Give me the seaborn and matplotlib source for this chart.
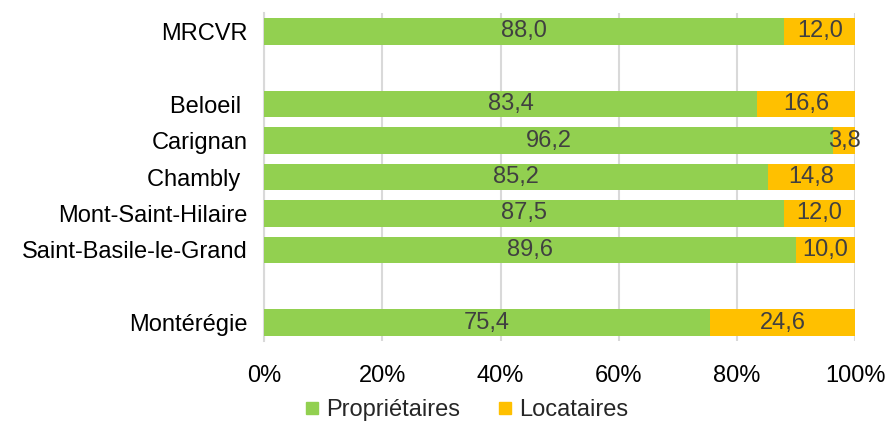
import pandas as pd
import matplotlib.pyplot as plt
from matplotlib.lines import Line2D
import seaborn as sns

# Data (percent of households)
zones = ["MRCVR", "Beloeil ", "Carignan", "Chambly ", "Mont-Saint-Hilaire",
         "Saint-Basile-le-Grand", "Montérégie"]
proprietaires = [88.0, 83.4, 96.2, 85.2, 87.5, 89.6, 75.4]
locataires = [12.0, 16.6, 3.8, 14.8, 12.0, 10.0, 24.6]

# Row order with blank separator rows
order = ["MRCVR", "", "Beloeil ", "Carignan", "Chambly ", "Mont-Saint-Hilaire",
         "Saint-Basile-le-Grand", " ", "Montérégie"]

green = "#92D050"
orange = "#FFC000"
grid_col = "#D9D9D9"
text_col = "#404040"

df = pd.DataFrame({"zone": zones, "prop": proprietaires, "loc": locataires})
df["total"] = df["prop"] + df["loc"]
df["prop_share"] = df["prop"] / df["total"] * 100
df["full"] = 100.0

sns.set_style("white")
plt.rcParams["font.family"] = ["Liberation Sans", "DejaVu Sans"]

fig = plt.figure(figsize=(8.89, 4.22), dpi=100)
ax = fig.add_axes([0.297, 0.192, 0.665, 0.777])

sns.barplot(data=df, x="full", y="zone", order=order, color=orange,
            width=0.73, saturation=1, orient="h", ax=ax, zorder=2, linewidth=0)
sns.barplot(data=df, x="prop_share", y="zone", order=order, color=green,
            width=0.73, saturation=1, orient="h", ax=ax, zorder=3, linewidth=0)

fmt = lambda v: f"{v:.1f}".replace(".", ",")
ypos = {z: i for i, z in enumerate(order)}
for _, r in df.iterrows():
    y = ypos[r["zone"]]
    ax.text(r["prop_share"] / 2, y, fmt(r["prop"]), ha="center", va="center",
            fontsize=17, color=text_col, zorder=4)
    ax.text((r["prop_share"] + 100) / 2, y, fmt(r["loc"]), ha="center",
            va="center", fontsize=17, color=text_col, zorder=4)

ax.set_xlim(0, 100)
ax.set_ylim(len(order) - 0.5, -0.5)
ax.set_xticks(range(0, 101, 20))
ax.set_xticklabels([f"{t}%" for t in range(0, 101, 20)])
ax.xaxis.grid(True, color=grid_col, linewidth=1.5, zorder=0)
ax.set_axisbelow(True)
ax.tick_params(axis="x", length=0, pad=17, labelsize=17, colors="black")
ax.tick_params(axis="y", length=0, pad=12, labelsize=17, colors="black")
ax.set_xlabel("")
ax.set_ylabel("")
for s in ["top", "right", "bottom"]:
    ax.spines[s].set_visible(False)
ax.spines["left"].set_color(grid_col)
ax.spines["left"].set_linewidth(1.5)

handles = [Line2D([], [], marker="s", linestyle="", color=green, markersize=8),
           Line2D([], [], marker="s", linestyle="", color=orange, markersize=8)]
fig.legend(handles, ["Propriétaires", "Locataires"], loc="center",
           bbox_to_anchor=(0.525, 0.028), ncol=2, frameon=False, fontsize=17,
           handlelength=0.6, handletextpad=0.3, columnspacing=1.6)

fig.savefig("out.png", dpi=100)
